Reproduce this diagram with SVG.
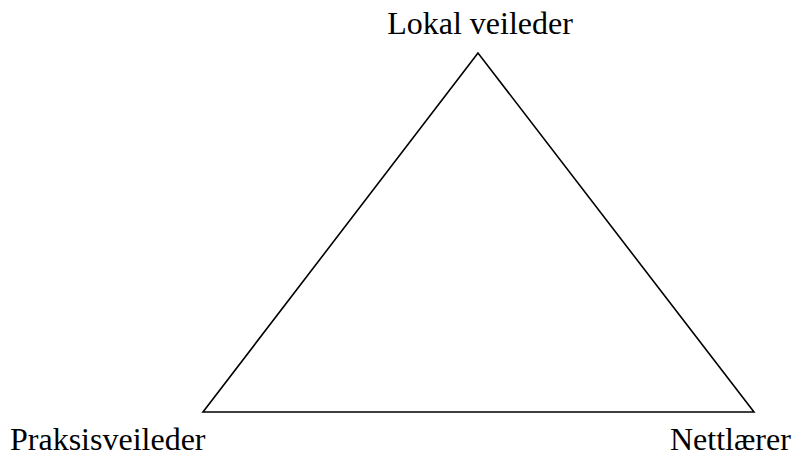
<svg xmlns="http://www.w3.org/2000/svg" width="793" height="457" viewBox="0 0 793 457">
<style>
.lbl{font-family:"Liberation Serif","Times New Roman",serif;font-size:32px;fill:#000}
.edge{stroke:#000;stroke-width:1.6;fill:none}
</style>
<rect width="793" height="457" fill="#fff"/>
<g id="connectors">
<path class="edge" d="M478,53 L203,412 L754,412 Z"/>
</g>
<g id="node-lokal"><text class="lbl" x="480" y="34" text-anchor="middle">Lokal veileder</text></g>
<g id="node-praksis"><text class="lbl" x="10" y="450">Praksisveileder</text></g>
<g id="node-nett"><text class="lbl" x="670" y="450">Nettlærer</text></g>
</svg>
